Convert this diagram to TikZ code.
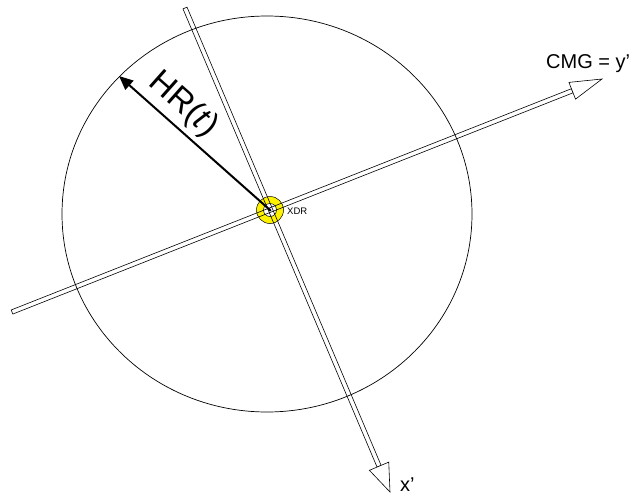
\documentclass[tikz,border=0pt]{standalone}
\usepackage{fontspec}
\setmainfont{Liberation Sans}
\usetikzlibrary{calc,arrows.meta}
\begin{document}
\begin{tikzpicture}[x=1pt,y=-1pt,
  axisline/.style={line width=0.6pt,line join=miter},
  headtri/.style={line width=0.6pt,fill=white,line join=miter},
  lbl/.style={inner sep=0pt,font=\fontsize{20}{24}\selectfont}]
\useasboundingbox[fill=white] (0,0) rectangle (641,496);
% big circle
\draw[line width=0.7pt] (267,214) ellipse [x radius=205, y radius=198];
% key points
\coordinate (C) at (270,210);
\coordinate (ytail) at (12,312);
\coordinate (ytip) at (602,79);
\coordinate (xtail) at (185,8);
\coordinate (xtip) at (390,492);
\coordinate (hrtip) at (119,76);
% XDR ring
\draw[line width=0.5pt,fill=yellow] (C) circle[radius=13.5];
\draw[line width=0.5pt,fill=white] (C) circle[radius=6.5];
% arrowhead bases
\coordinate (yb) at ($(ytip)!32pt!(ytail)$);
\coordinate (xb) at ($(xtip)!28pt!(xtail)$);
% y' axis shaft
\draw[axisline] ($(ytail)!2.2pt!90:(ytip)$) -- ($(yb)!2.2pt!-90:(ytail)$)
  -- ($(yb)!2.2pt!90:(ytail)$) -- ($(ytail)!2.2pt!-90:(ytip)$) -- cycle;
\draw[headtri] (ytip) -- ($(yb)!9pt!90:(ytip)$) -- ($(yb)!9pt!-90:(ytip)$) -- cycle;
% x' axis shaft
\draw[axisline] ($(xtail)!2.2pt!90:(xtip)$) -- ($(xb)!2.2pt!-90:(xtail)$)
  -- ($(xb)!2.2pt!90:(xtail)$) -- ($(xtail)!2.2pt!-90:(xtip)$) -- cycle;
\draw[headtri] (xtip) -- ($(xb)!10.5pt!90:(xtip)$) -- ($(xb)!10.5pt!-90:(xtip)$) -- cycle;
% HR(t) arrow
\draw[line width=2pt,-{Triangle[length=14pt,width=12pt]}] (C) -- (hrtip);
\fill (C) circle[radius=1.5];
% labels
\node[inner sep=0pt,rotate=-41.6,font=\fontsize{33}{38}\selectfont] (hr) at (183,105) {HR(\textit{t})};
\node[inner sep=0pt,anchor=west,font=\fontsize{9.5}{11}\selectfont] (xdr) at (287,211) {XDR};
\node[lbl,anchor=base west] (cmg) at (546,68.3) {CMG = y’};
\node[lbl,anchor=base west] (xp) at (400,491.7) {x’};
\end{tikzpicture}
\end{document}
